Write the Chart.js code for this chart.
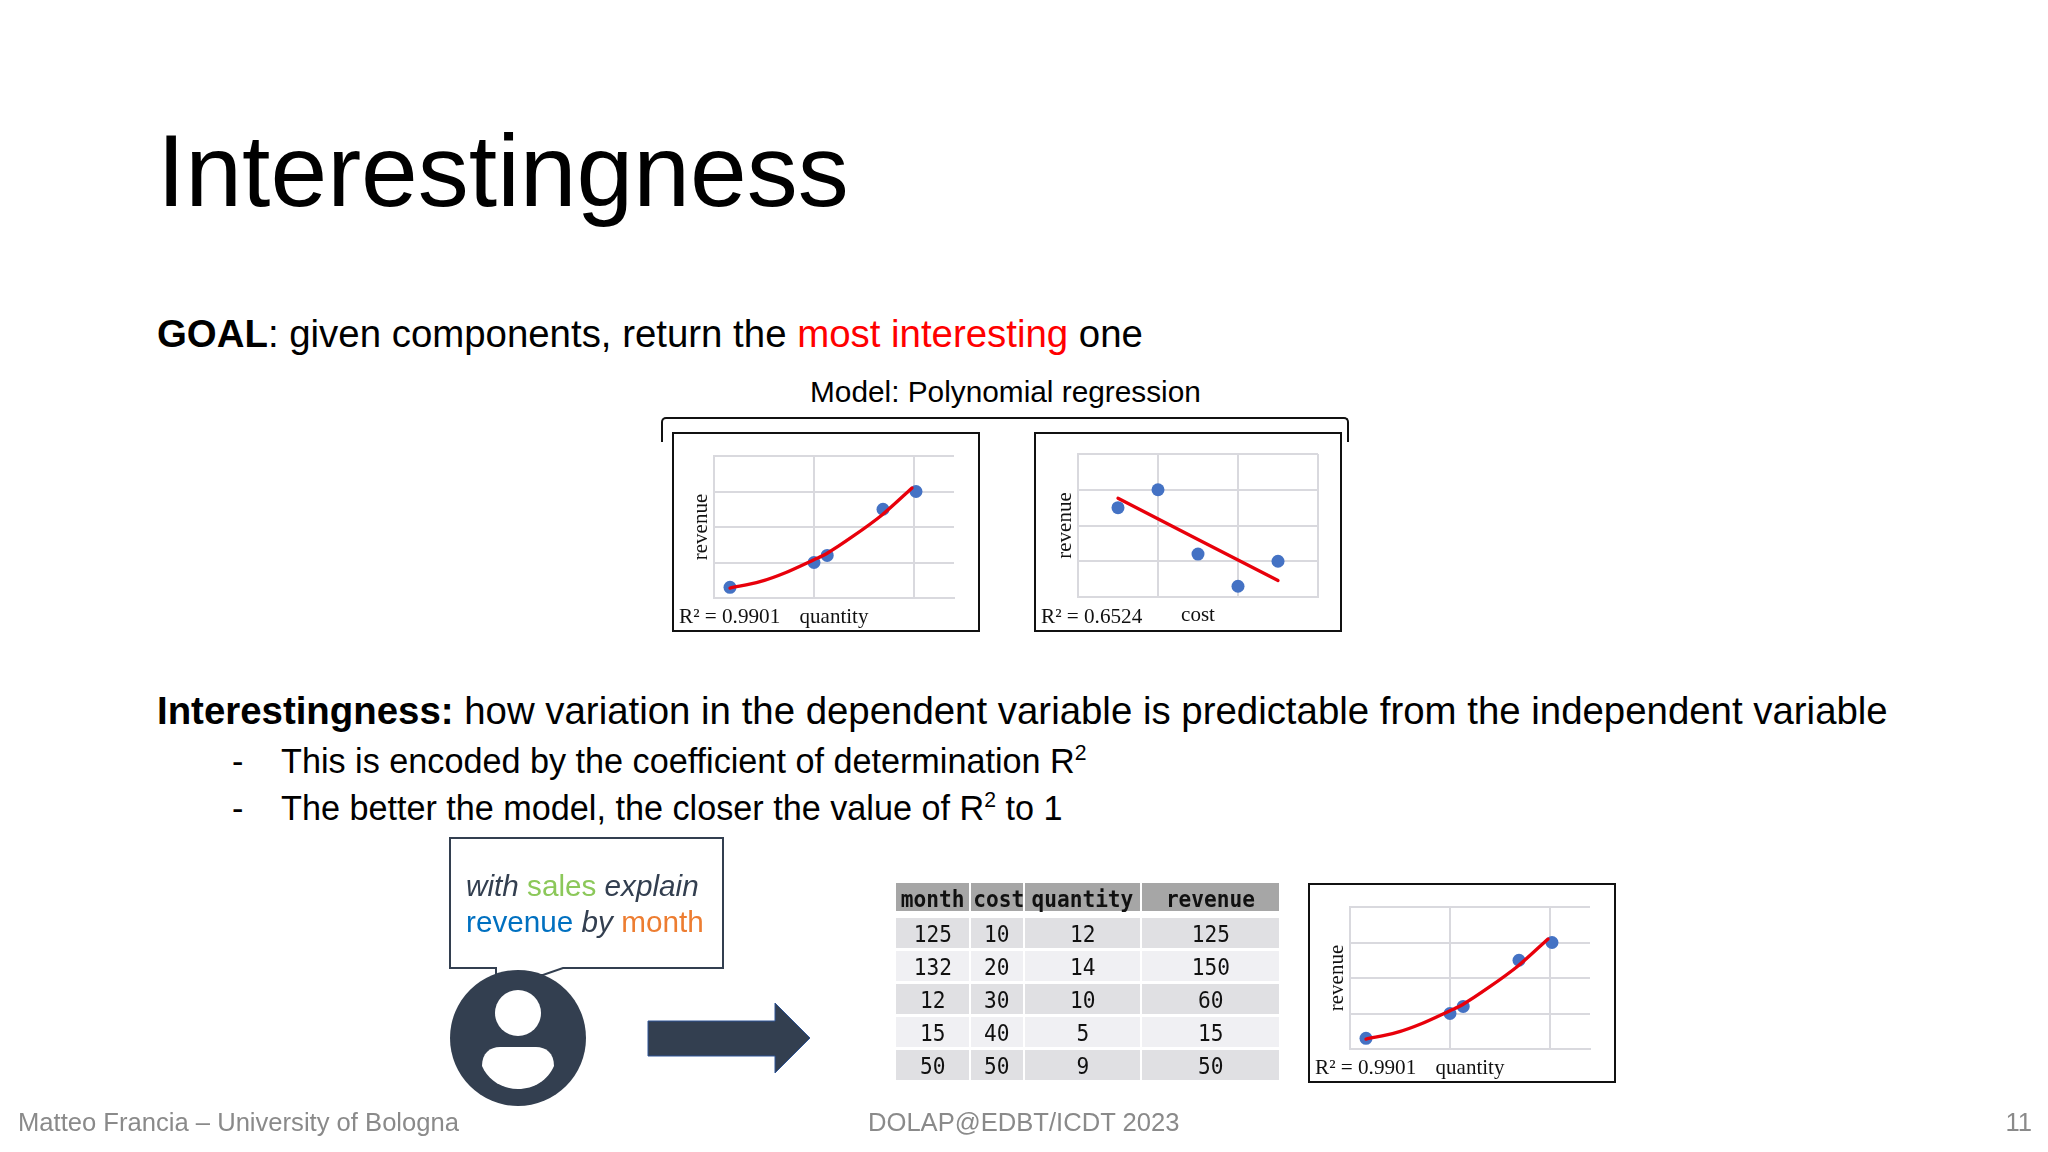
<!DOCTYPE html>
<html>
<head>
<meta charset="utf-8">
<title>Interestingness</title>
<script src="https://cdn.jsdelivr.net/npm/chart.js@4"></script>
<style>
  html, body { margin: 0; padding: 0; background: #fff; }
  body { width: 2048px; height: 1152px; position: relative; overflow: hidden; font-family: "Liberation Sans", Arial, sans-serif; color: #000; }
  .t { position: absolute; white-space: nowrap; line-height: 1; }
  .box { position: absolute; border: 2px solid #111; background: #fff; box-sizing: border-box; }
  .box canvas { position: absolute; left: 0; top: 0; }
  .r2 { position: absolute; white-space: nowrap; line-height: 1; font-family: "Liberation Serif", serif; font-size: 21.2px; color: #111; }
  sup { font-size: 62%; line-height: 0; vertical-align: baseline; position: relative; top: -0.62em; }
  .foot { color: #8a8a8a; font-size: 25.6px; }
  #bracket { position: absolute; left: 661px; top: 417px; width: 688px; height: 25px; box-sizing: border-box; border: 2px solid #111; border-bottom: none; border-radius: 5px 5px 0 0; }
  #table { position: absolute; left: 896px; top: 883px; display: grid; grid-template-columns: 73px 52px 115px 137px; column-gap: 2px; font-family: "DejaVu Sans Mono", monospace; font-size: 23px; color: #111; text-align: center; }
  #table div { height: 30px; line-height: 32px; margin-bottom: 3px; background: #e0e0e3; }
  #table div.even { background: #f0f0f3; }
  #table div.head { background: #a6a6a6; font-weight: bold; height: 28px; line-height: 33px; margin-bottom: 7px; }
  #table span { display: inline-block; transform: scaleX(0.92); }
  #shapes { position: absolute; left: 0; top: 0; }
</style>
</head>
<body>

<div class="t" style="left:157px;top:120px;font-size:102px">Interestingness</div>
<div class="t" style="left:157px;top:315px;font-size:38.4px"><b>GOAL</b>: given components, return the <span style="color:#f00">most interesting</span> one</div>
<div class="t" style="left:810px;top:377px;font-size:29.8px">Model: Polynomial regression</div>
<div id="bracket"></div>

<div class="box" style="left:672px;top:432px;width:308px;height:200px"><canvas id="chartQuantity" width="304" height="196"></canvas><div class="r2" style="left:5px;top:172px">R² = 0.9901</div></div>
<div class="box" style="left:1034px;top:432px;width:308px;height:200px"><canvas id="chartCost" width="304" height="196"></canvas><div class="r2" style="left:5px;top:172px">R² = 0.6524</div></div>

<div class="t" style="left:157px;top:692px;font-size:38.4px"><b>Interestingness:</b> how variation in the dependent variable is predictable from the independent variable</div>
<div class="t" style="left:232px;top:744px;font-size:34.2px">-</div>
<div class="t" style="left:281px;top:744px;font-size:34.2px">This is encoded by the coefficient of determination R<sup>2</sup></div>
<div class="t" style="left:232px;top:791px;font-size:34.2px">-</div>
<div class="t" style="left:281px;top:791px;font-size:34.2px">The better the model, the closer the value of R<sup>2</sup> to 1</div>

<svg id="shapes" width="2048" height="1152">
  <path d="M450 838 H723 V968 H563 L543 975 H496 V968 H450 Z" fill="#fff" stroke="#333f50" stroke-width="2"/>
  <circle cx="518" cy="1038" r="68" fill="#333f50"/>
  <circle cx="518" cy="1013" r="23" fill="#fff"/>
  <path d="M482 1066 C482 1053 490 1047 500 1047 H536 C546 1047 554 1053 554 1066 C548 1080 534 1089 518 1089 C502 1089 488 1080 482 1066 Z" fill="#fff"/>
  <path d="M648 1021 H775 V1003 L810 1038 L775 1073 V1056 H648 Z" fill="#333f50" stroke="#2f5597" stroke-width="1"/>
</svg>

<div class="t" style="left:466px;top:871px;font-size:29.7px;color:#333f50"><i>with</i> <span style="color:#8cc85a">sales</span> <i>explain</i></div>
<div class="t" style="left:466px;top:907px;font-size:29.7px;color:#333f50"><span style="color:#0070c0">revenue</span> <i>by</i> <span style="color:#ed7d31">month</span></div>

<div id="table"></div>

<div class="box" style="left:1308px;top:883px;width:308px;height:200px"><canvas id="chartQuantity2" width="304" height="196"></canvas><div class="r2" style="left:5px;top:172px">R² = 0.9901</div></div>

<div class="t foot" style="left:18px;top:1110px">Matteo Francia – University of Bologna</div>
<div class="t foot" style="left:868px;top:1110px">DOLAP@EDBT/ICDT 2023</div>
<div class="t foot" style="right:16px;top:1110px">11</div>

<script>
// table contents
const tableHeaders = ['month', 'cost', 'quantity', 'revenue'];
const months = [125, 132, 12, 15, 50];
const costs = [10, 20, 30, 40, 50];
const quantities = [12, 14, 10, 5, 9];
const revenues = [125, 150, 60, 15, 50];

// scatter points
const quantityX = [5.8, 10, 10.66, 13.45, 15.1];
const quantityY = [15, 50, 60, 125, 150];
const costX = [10, 20, 30, 40, 50];
const costY = [125, 150, 60, 15, 50];

// red trend lines
const quantityFitX = [5.8, 7.3, 8.6, 10, 10.6, 11.9, 13.4, 14.9];
const quantityFitY = [14, 23, 36, 54, 62, 86, 117, 155];
const costFitX = [10, 50];
const costFitY = [138, 23];

// axis ticks
const revenueTicks = [0, 50, 100, 150, 200];
const quantityTicks = [5, 10, 15];
const costTicks = [0, 20, 40, 60];

const GRID = '#d9d9de';

function toPoints(xs, ys) {
  return xs.map((x, i) => ({ x, y: ys[i] }));
}

function buildTable() {
  const table = document.getElementById('table');
  let html = tableHeaders.map(h => `<div class="head"><span>${h}</span></div>`).join('');
  months.forEach((m, i) => {
    const cls = i % 2 ? 'even' : '';
    [m, costs[i], quantities[i], revenues[i]].forEach(v => {
      html += `<div class="${cls}"><span>${v}</span></div>`;
    });
  });
  table.innerHTML = html;
}

function drawScatter(id, xTitle, xs, ys, fitX, fitY, xMin, xMax, xTicks, pad, xHeight, titleBottom) {
  new Chart(document.getElementById(id), {
    type: 'scatter',
    data: {
      datasets: [
        {
          type: 'line', data: toPoints(fitX, fitY), borderColor: '#e8000b', borderWidth: 3.3,
          borderCapStyle: 'round', pointRadius: 0, tension: 0.3, fill: false, order: 1
        },
        { data: toPoints(xs, ys), backgroundColor: '#4472c4', borderWidth: 0, pointRadius: 6.5, order: 2 }
      ]
    },
    options: {
      responsive: false,
      animation: false,
      layout: { padding: pad },
      plugins: { legend: { display: false }, tooltip: { enabled: false } },
      scales: {
        x: {
          type: 'linear', min: xMin, max: xMax,
          afterBuildTicks: s => { s.ticks = xTicks.map(value => ({ value })); },
          afterFit: s => { s.height = xHeight; },
          grid: { color: GRID, lineWidth: 2, drawTicks: false },
          border: { color: GRID, width: 2 },
          ticks: { display: false },
          title: { display: true, text: xTitle, color: '#111', font: { family: 'Liberation Serif', size: 21 }, padding: { top: 5, bottom: titleBottom } }
        },
        y: {
          type: 'linear', min: 0, max: 200,
          afterBuildTicks: s => { s.ticks = revenueTicks.map(value => ({ value })); },
          afterFit: s => { s.width = 32; },
          grid: { color: GRID, lineWidth: 2, drawTicks: false },
          border: { color: GRID, width: 2 },
          ticks: { display: false },
          title: { display: true, text: 'revenue', color: '#111', font: { family: 'Liberation Serif', size: 21 }, padding: { top: 7, bottom: 0 } }
        }
      }
    }
  });
}

buildTable();
const padQuantity = { left: 8, right: 24, top: 22, bottom: 0 };
drawScatter('chartQuantity', 'quantity', quantityX, quantityY, quantityFitX, quantityFitY, 5, 17, quantityTicks, padQuantity, 32, 0);
drawScatter('chartCost', 'cost', costX, costY, costFitX, costFitY, 0, 60, costTicks, { left: 10, right: 22, top: 20, bottom: 0 }, 33, 2);
drawScatter('chartQuantity2', 'quantity', quantityX, quantityY, quantityFitX, quantityFitY, 5, 17, quantityTicks, padQuantity, 32, 0);
</script>
</body>
</html>
